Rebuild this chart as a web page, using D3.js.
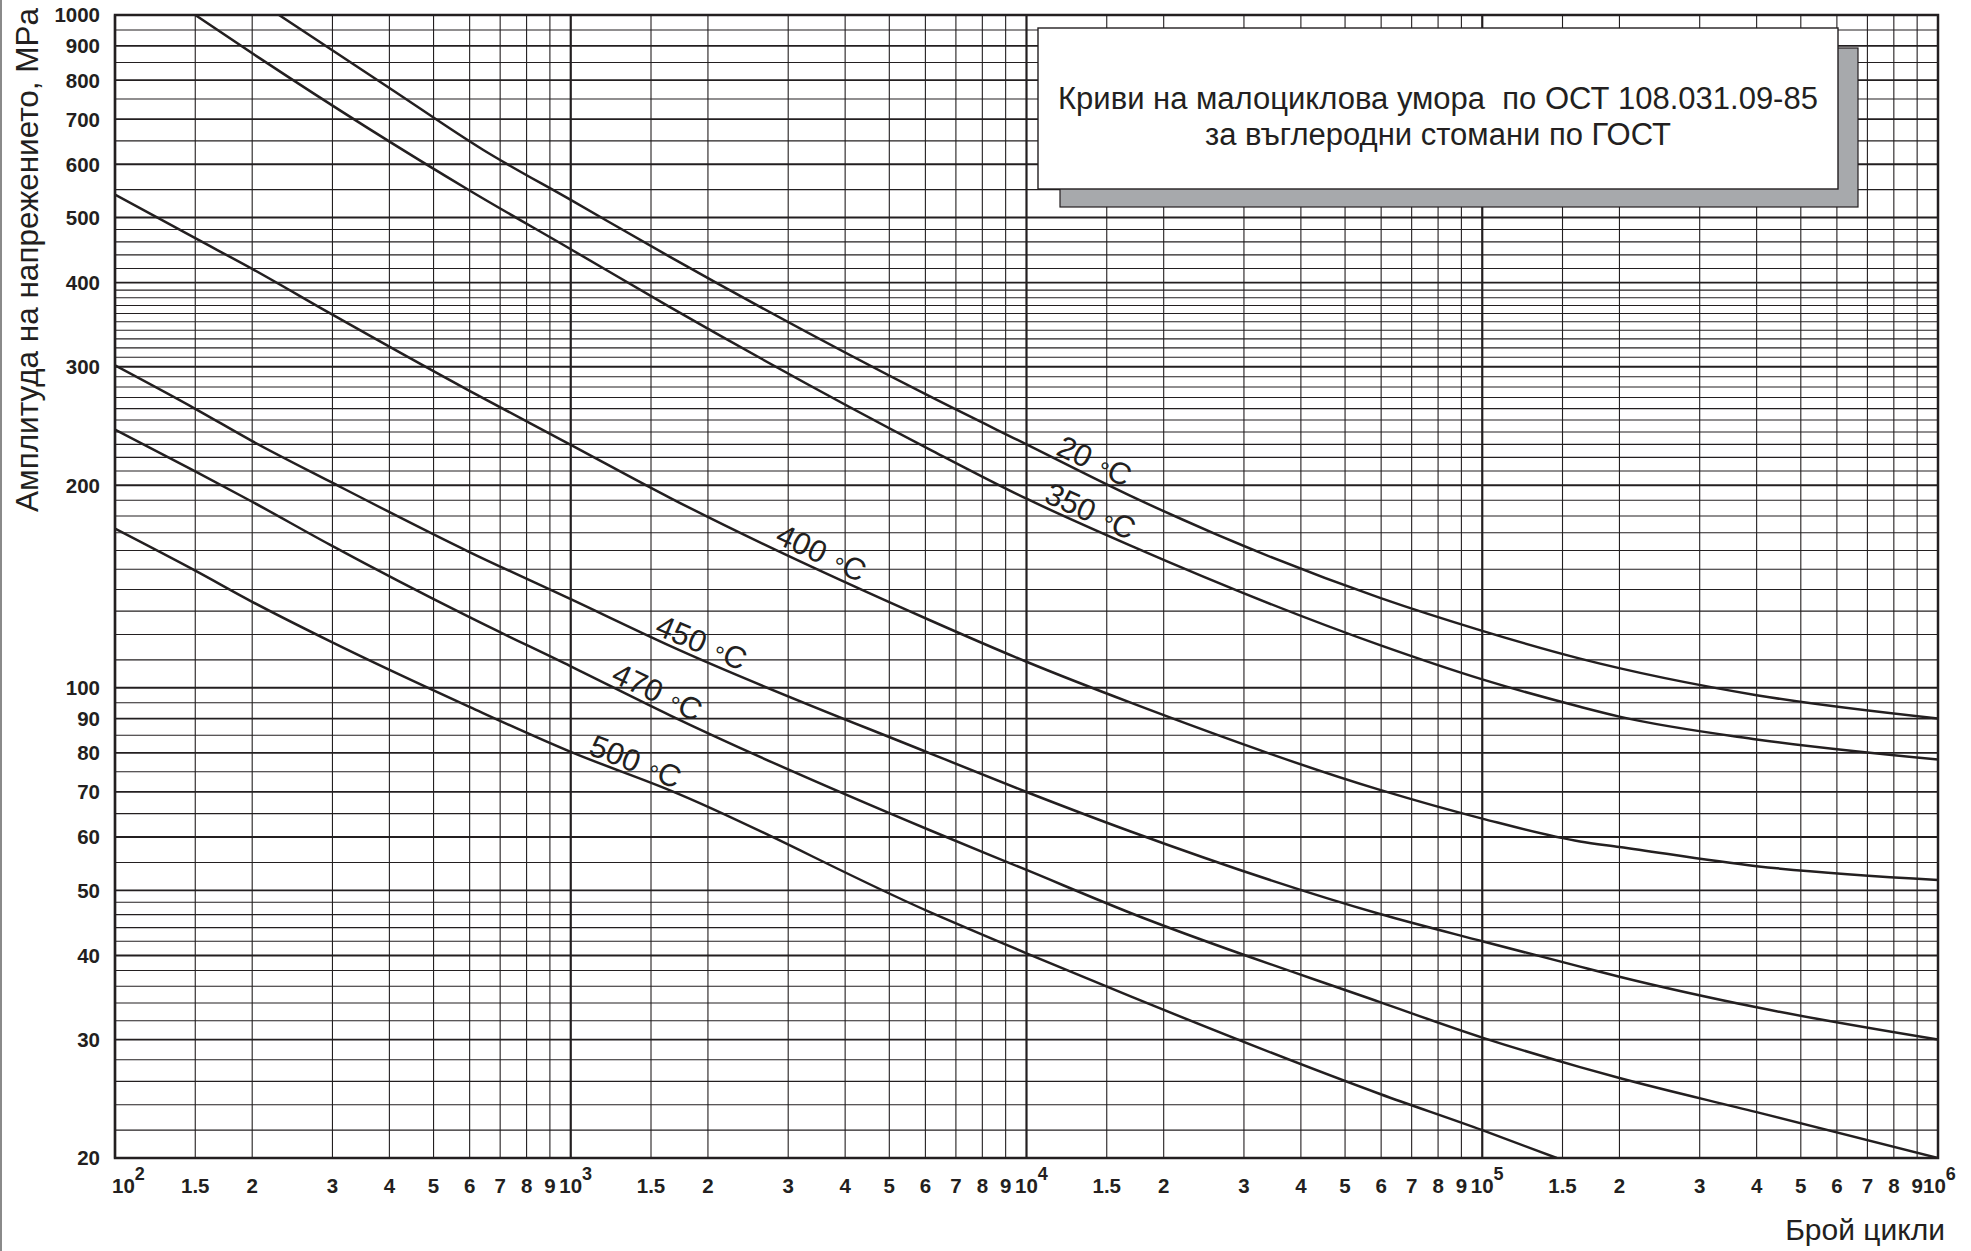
<!DOCTYPE html>
<html>
<head>
<meta charset="utf-8">
<script src="https://cdn.jsdelivr.net/npm/d3@7"></script>
<style>
  body { margin: 0; background: #fff; }
  svg { display: block; font-family: "Liberation Sans", Arial, sans-serif; }
</style>
</head>
<body>
<svg id="chart" width="1971" height="1251"></svg>
<script>
// number of cycles N and stress amplitude (MPa)
const curve20 = [[229,1000],[400,779],[643,630],[1000,531],[1651,437],[6140,271],[10000,230],[16870,193],[59650,136],[100000,121.5],[163900,110.5],[400000,97.5],[1000000,90]];
const curve350 = [[150,1000],[208,862],[601,548],[1000,448.6],[1651,368],[6140,226],[10000,191],[16870,162.8],[59650,115.7],[100000,102.9],[163900,93.7],[200000,90.6],[400000,83.8],[1000000,78.2]];
const curve400 = [[100,541],[150,465.8],[200,419.4],[296,360.4],[601,276],[1000,229.7],[1651,191.6],[6140,126],[10000,109.3],[16870,95.1],[59650,70.5],[100000,63.9],[163900,59.1],[200000,58],[400000,54.3],[1000000,51.8]];
const curve450 = [[100,301.4],[150,259.8],[200,232.6],[296,202.6],[601,159],[1000,135.4],[1651,115.4],[6140,79.9],[10000,70],[16870,61.2],[59650,46.1],[100000,42],[163900,38.5],[200000,37.2],[400000,33.5],[1000000,30]];
const curve470 = [[100,241.9],[150,209.7],[200,189],[296,163.2],[601,127.2],[1000,107.6],[1651,91],[6140,61.4],[10000,53.6],[16870,46.3],[59650,34.1],[100000,30.2],[163900,27.3],[200000,26.3],[400000,23.4],[1000000,20]];
const curve500 = [[100,172.4],[150,149.3],[200,134.2],[296,117.3],[601,93.6],[1000,80.3],[1651,70.4],[6140,46.4],[10000,40.3],[16870,34.8],[59650,24.9],[100000,22],[145700,20]];

const curves = [curve20, curve350, curve400, curve450, curve470, curve500];
const curveNames = ['20', '350', '400', '450', '470', '500'];
const labelAtN = [11430, 10760, 2764, 1507, 1208, 1079];   // where each label starts

// axes
const xDecades = [2, 3, 4, 5, 6];
const xMantissas = [1, 1.5, 2, 3, 4, 5, 6, 7, 8, 9];
const xMantissaLabels = ['1.5', '2', '3', '4', '5', '6', '7', '8', '9'];
const yLabels = [1000, 900, 800, 700, 600, 500, 400, 300, 200, 100, 90, 80, 70, 60, 50, 40, 30, 20];
const yGridSteps = [[20, 50, 2], [50, 100, 5], [100, 400, 10], [400, 500, 20], [500, 1000, 50]];

const titleLines = ['Криви на малоциклова умора  по ОСТ 108.031.09-85', 'за въглеродни стомани по ГОСТ'];
const yTitle = 'Амплитуда на напрежението, MPa';
const xTitle = 'Брой цикли';

const ink = '#231f20';
const margin = {top: 15, left: 115, right: 33, bottom: 93};
const width = 1971 - margin.left - margin.right;
const height = 1251 - margin.top - margin.bottom;

const svg = d3.select('#chart');

const xScale = d3.scaleLog().domain([1e2, 1e6]).range([margin.left, margin.left + width]);
const yScale = d3.scaleLog().domain([20, 1000]).range([margin.top + height, margin.top]);

// page edge line on the left
svg.append('line')
    .attr('x1', 1).attr('x2', 1).attr('y1', 0).attr('y2', 1251)
    .attr('stroke', '#8a8a8a').attr('stroke-width', 2);

// vertical grid
const xGrid = [];
xDecades.slice(0, -1).forEach(e => xMantissas.forEach(m => xGrid.push(m * Math.pow(10, e))));
svg.append('g').selectAll('line')
    .data(xGrid)
    .join('line')
    .attr('x1', d => xScale(d)).attr('x2', d => xScale(d))
    .attr('y1', margin.top).attr('y2', margin.top + height)
    .attr('stroke', ink)
    .attr('stroke-width', (d, i) => i % 10 === 0 ? 2.2 : 1.1);

// horizontal grid
const yGrid = [];
yGridSteps.forEach(([a, b, s]) => { for (let v = a; v < b; v += s) yGrid.push(v); });
svg.append('g').selectAll('line')
    .data(yGrid)
    .join('line')
    .attr('x1', margin.left).attr('x2', margin.left + width)
    .attr('y1', d => yScale(d)).attr('y2', d => yScale(d))
    .attr('stroke', ink)
    .attr('stroke-width', d => yLabels.includes(d) ? 1.8 : 1.1);

// frame
svg.append('rect')
    .attr('x', margin.left).attr('y', margin.top)
    .attr('width', width).attr('height', height)
    .attr('fill', 'none').attr('stroke', ink).attr('stroke-width', 2.5);

// y tick labels
svg.append('g').selectAll('text')
    .data(yLabels)
    .join('text')
    .attr('x', margin.left - 15)
    .attr('y', d => yScale(d))
    .attr('dy', '0.36em')
    .attr('text-anchor', 'end')
    .attr('font-size', 20.5).attr('font-weight', 'bold').attr('fill', ink)
    .text(d => d);

// x tick labels
const xLabY = margin.top + height + 35;
const xl = svg.append('g').attr('font-size', 20.5).attr('font-weight', 'bold').attr('fill', ink);
xDecades.forEach((e, k) => {
    const tick = xScale(Math.pow(10, e));
    const start = k === 0 ? tick - 3 : (k === xDecades.length - 1 ? tick - 15 : tick - 11.5);
    const t = xl.append('text')
        .attr('x', start)
        .attr('y', xLabY);
    t.append('tspan').text('10');
    t.append('tspan').attr('dy', -13).attr('font-size', 18).text(e);
    if (k < xDecades.length - 1) {
        xMantissaLabels.forEach(m => {
            xl.append('text')
                .attr('x', xScale(+m * Math.pow(10, e)))
                .attr('y', xLabY)
                .attr('text-anchor', 'middle')
                .text(m);
        });
    }
});

// curves
svg.append('clipPath').attr('id', 'plot-clip')
    .append('rect')
    .attr('x', margin.left).attr('y', margin.top)
    .attr('width', width).attr('height', height);

const line = d3.line()
    .x(d => xScale(d[0]))
    .y(d => yScale(d[1]))
    .curve(d3.curveMonotoneX);

svg.append('g').attr('clip-path', 'url(#plot-clip)')
    .selectAll('path')
    .data(curves)
    .join('path')
    .attr('fill', 'none')
    .attr('stroke', ink)
    .attr('stroke-width', 2.5)
    .attr('d', line);

// stress at N, interpolated on the log-log data
function stressAt(data, n) {
    const ln = Math.log10(n);
    for (let i = 1; i < data.length; i++) {
        const a = Math.log10(data[i - 1][0]), b = Math.log10(data[i][0]);
        if (ln <= b) {
            const t = (ln - a) / (b - a);
            return Math.pow(10, Math.log10(data[i - 1][1]) + t * (Math.log10(data[i][1]) - Math.log10(data[i - 1][1])));
        }
    }
    return data[data.length - 1][1];
}

// curve labels, rotated along the curve
curves.forEach((data, i) => {
    const x0 = xScale(labelAtN[i]);
    const y0 = yScale(stressAt(data, labelAtN[i]));
    const n1 = xScale.invert(x0 + 95);
    const y1 = yScale(stressAt(data, n1));
    const angle = Math.atan2(y1 - y0, 95) * 180 / Math.PI;
    const t = svg.append('text')
        .attr('transform', `translate(${x0},${y0}) rotate(${angle})`)
        .attr('y', -4)
        .attr('font-size', 31)
        .attr('fill', ink);
    t.append('tspan').text(curveNames[i]);
    t.append('tspan').attr('font-size', 25).attr('dx', 11).attr('dy', 3).text('°');
    t.append('tspan').attr('dy', -3).text('C');
});

// title box with shadow
svg.append('rect')
    .attr('x', 1060).attr('y', 48).attr('width', 798).attr('height', 159)
    .attr('fill', '#a7a9ac').attr('stroke', ink).attr('stroke-width', 1.2);
svg.append('rect')
    .attr('x', 1038).attr('y', 28).attr('width', 800).attr('height', 161)
    .attr('fill', '#fff').attr('stroke', ink).attr('stroke-width', 1.4);
svg.append('g').selectAll('text')
    .data(titleLines)
    .join('text')
    .attr('x', 1438)
    .attr('y', (d, i) => 109 + i * 36)
    .attr('text-anchor', 'middle')
    .attr('font-size', 31)
    .attr('fill', ink)
    .style('white-space', 'pre')
    .text(d => d);

// axis titles
svg.append('text')
    .attr('transform', `translate(38, 260) rotate(-90)`)
    .attr('text-anchor', 'middle')
    .attr('font-size', 31.5)
    .attr('fill', ink)
    .text(yTitle);

svg.append('text')
    .attr('x', 1945)
    .attr('y', 1240)
    .attr('text-anchor', 'end')
    .attr('font-size', 30)
    .attr('fill', ink)
    .text(xTitle);
</script>
</body>
</html>
